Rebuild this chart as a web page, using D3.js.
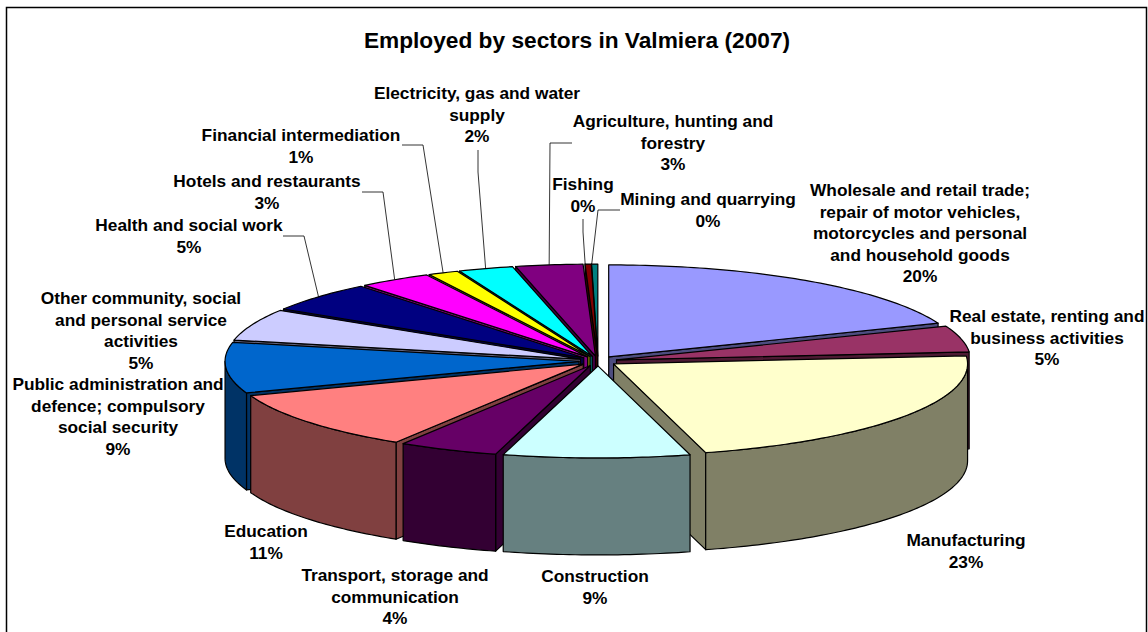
<!DOCTYPE html>
<html><head><meta charset="utf-8">
<script src="https://cdnjs.cloudflare.com/ajax/libs/d3/7.8.5/d3.min.js"></script>
<style>html,body{margin:0;padding:0;background:#fff}svg{display:block}text{font-family:"Liberation Sans",Arial,sans-serif;font-weight:bold;fill:#000}</style>
</head><body><svg id="c" width="1148" height="632"></svg>
<script>
const chartTitle = "Employed by sectors in Valmiera (2007)";
const sectors = ["Wholesale and retail trade; repair of motor vehicles, motorcycles and personal and household goods","Real estate, renting and business activities","Manufacturing","Construction","Transport, storage and communication","Education","Public administration and defence; compulsory social security","Other community, social and personal service activities","Health and social work","Hotels and restaurants","Financial intermediation","Electricity, gas and water supply","Agriculture, hunting and forestry","Fishing","Mining and quarrying"];
// slice sizes
const shares = [19.03,4.58,22.2,8.5,4.56,10.56,8.89,5.56,5.28,3.33,1.39,2.5,3.06,0.28,0.28];
// percentages printed on the labels
const printedPercents = ["20%","5%","23%","9%","4%","11%","9%","5%","5%","3%","1%","2%","3%","0%","0%"];
const palette = ["#9999FF","#993366","#FFFFCC","#CCFFFF","#660066","#FF8080","#0066CC","#CCCCFF","#000080","#FF00FF","#FFFF00","#00FFFF","#800080","#800000","#008080"];

// label layout, separate from the data
const labelLines = [
 ["Wholesale and retail trade;","repair of motor vehicles,","motorcycles and personal","and household goods"],
 ["Real estate, renting and","business activities"],["Manufacturing"],["Construction"],
 ["Transport, storage and","communication"],["Education"],
 ["Public administration and","defence; compulsory","social security"],
 ["Other community, social","and personal service","activities"],
 ["Health and social work"],["Hotels and restaurants"],["Financial intermediation"],
 ["Electricity, gas and water","supply"],["Agriculture, hunting and","forestry"],["Fishing"],["Mining and quarrying"]];
const labelPos = [[920,190],[1047,316],[966,540],[595,576],[395,575],[266,531],[118,384],[141,298],[189,225],[267,181],[301,135],[477,93],[673,121],[583,184],[708,199]];
const leaderElbows = {8:[[283,236],[304,236]],9:[[362,192],[383,192]],10:[[402,145],[423,145]],11:[[478,150],[478,172]],12:[[572,143],[550,143]],13:[[583,219],[583,232]],14:[[620,210],[598,210]]};
const leaderNudge = {13:-3,14:-3};

const cx=598, cy=361, rx=354, ry=92, depth=97, explode=19;
const svg=d3.select("#c");
svg.append("rect").attr("x",6.5).attr("y",7.5).attr("width",1140).attr("height",640).attr("fill","#fff").attr("stroke","#000").attr("stroke-width",1.5);

const arcs=d3.pie().sort(null).startAngle(0).endAngle(2*Math.PI)(shares);
const line=d3.line();
const DEG=Math.PI/180;
const half=c=>{const r=d3.rgb(c);return d3.rgb(r.r/2,r.g/2,r.b/2).formatHex();};
arcs.forEach((a,i)=>{
  a.i=i; a.mid=(a.startAngle+a.endAngle)/2;
  a.ax=cx+explode*Math.sin(a.mid);
  a.ay=cy-explode*(ry/rx)*Math.cos(a.mid);
  a.pt=t=>[a.ax+rx*Math.sin(t),a.ay-ry*Math.cos(t)];
});
const samples=(from,to)=>{const n=Math.max(2,Math.ceil(Math.abs(to-from)/(DEG)));return d3.range(n+1).map(k=>from+(to-from)*k/n);};
const down=p=>[p[0],p[1]+depth];

const order=arcs.slice().sort((p,q)=>d3.descending(Math.cos(p.mid),Math.cos(q.mid)));
const g=svg.append("g").attr("stroke","#000").attr("stroke-width",1.2).attr("stroke-linejoin","round");
order.forEach(a=>{
  const col=palette[a.i], side=half(col), apex=[a.ax,a.ay];
  const wall=t=>{const p=a.pt(t);return line([apex,p,down(p),down(apex)])+"Z";};
  if(Math.sin(a.startAngle)<-1e-6) g.append("path").attr("d",wall(a.startAngle)).attr("fill",side);
  if(Math.sin(a.endAngle)>1e-6) g.append("path").attr("d",wall(a.endAngle)).attr("fill",side);
  const lo=Math.max(a.startAngle,Math.PI/2), hi=Math.min(a.endAngle,3*Math.PI/2);
  if(hi>lo){
    const ts=samples(lo,hi), up=ts.map(a.pt);
    g.append("path").attr("d",line(up.concat(up.map(down).reverse()))+"Z").attr("fill",side);
  }
  const top=samples(a.startAngle,a.endAngle).map(a.pt);
  g.append("path").attr("d",line([apex].concat(top))+"Z").attr("fill",col);
});

const leaders=svg.append("g").attr("fill","none").attr("stroke","#000").attr("stroke-width",0.8);
Object.keys(leaderElbows).forEach(k=>{
  const a=arcs[+k], end=a.pt(a.mid); end[0]+=leaderNudge[k]||0;
  leaders.append("path").attr("d",line(leaderElbows[k].concat([end])));
});

svg.append("text").attr("x",577).attr("y",48).attr("text-anchor","middle").style("font-size","22.7px").text(chartTitle);
const labels=svg.append("g").attr("text-anchor","middle").style("font-size","17.3px");
labelLines.forEach((ls,i)=>{
  const t=labels.append("text").attr("data-sector",sectors[i]);
  ls.concat([printedPercents[i]]).forEach((s,j)=>{
    t.append("tspan").attr("x",labelPos[i][0]).attr("y",labelPos[i][1]+6+j*21.5).text(s);
  });
});
</script></body></html>
